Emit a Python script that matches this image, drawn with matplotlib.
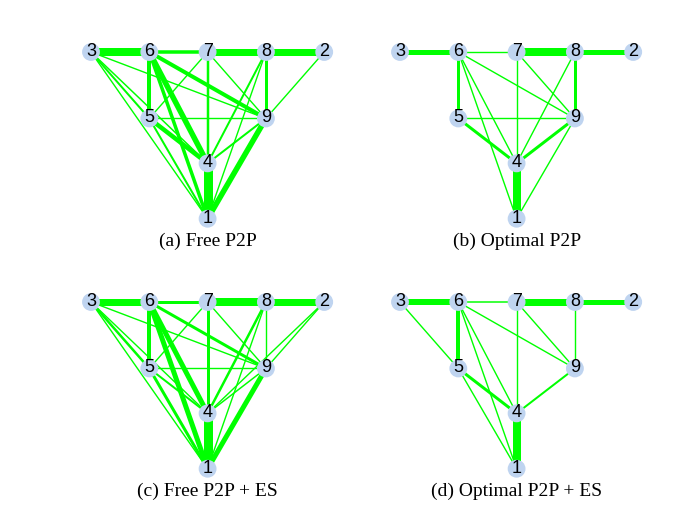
import matplotlib.pyplot as plt

W, H = 700, 525
PPU = 58.3  # pixels per layout unit

# node layout (node id -> position)
node_ids = [1, 2, 3, 4, 5, 6, 7, 8, 9]
node_x = [2, 4, 0, 2, 1, 1, 2, 3, 3]
node_y = [-2.86, 0, 0, -1.91, -1.14, 0, 0, 0, -1.14]

# edges: (from, to, weight as line width in px)
edges_free = [
    (3, 6, 8), (6, 7, 3.5), (7, 8, 7), (8, 2, 7),
    (3, 9, 1), (3, 5, 2), (3, 4, 1.5), (3, 1, 1),
    (6, 5, 4), (6, 9, 4), (6, 4, 5.5), (6, 1, 3.5),
    (7, 5, 1), (7, 4, 2.5), (7, 9, 1),
    (8, 9, 3), (8, 4, 2), (8, 1, 1),
    (2, 9, 1), (5, 9, 1), (5, 4, 4.5), (5, 1, 2),
    (9, 4, 2), (9, 1, 5.5), (4, 1, 9),
]
edges_opt = [
    (3, 6, 5), (6, 7, 1), (7, 8, 8), (8, 2, 5),
    (6, 5, 3), (6, 9, 1), (6, 4, 1), (6, 1, 1),
    (7, 4, 1), (7, 9, 1), (8, 9, 3), (8, 4, 1),
    (5, 9, 1), (5, 4, 3), (9, 4, 3), (9, 1, 1), (4, 1, 8),
]
edges_free_es = [
    (3, 6, 7), (6, 7, 3), (7, 8, 8), (8, 2, 7),
    (3, 9, 1), (3, 5, 2.5), (3, 4, 1), (3, 1, 1),
    (6, 5, 4), (6, 9, 3), (6, 4, 5), (6, 1, 5),
    (7, 5, 1), (7, 4, 3), (7, 9, 1),
    (8, 9, 1), (8, 4, 2.5), (8, 1, 1),
    (2, 9, 1), (2, 4, 1), (5, 9, 1), (5, 4, 2), (5, 1, 3),
    (9, 4, 1.5), (9, 1, 5), (4, 1, 9),
]
edges_opt_es = [
    (3, 6, 6), (6, 7, 1.5), (7, 8, 7), (8, 2, 5),
    (3, 5, 1), (6, 5, 4), (6, 9, 1), (6, 4, 1), (6, 1, 1),
    (7, 4, 1), (7, 9, 1), (8, 9, 1),
    (5, 4, 3), (5, 1, 1), (9, 4, 2), (4, 1, 8),
]

titles = ['(a) Free P2P', '(b) Optimal P2P', '(c) Free P2P + ES', '(d) Optimal P2P + ES']
panels = [edges_free, edges_opt, edges_free_es, edges_opt_es]
# pixel position of node 3 in each panel
origins = [(91, 52), (400, 52), (91, 302), (400, 302)]

pos = {n: (x, y) for n, x, y in zip(node_ids, node_x, node_y)}

fig = plt.figure(figsize=(7, 5.25), dpi=100)

mx, my = 30, 25
for edges, title, (ox, oy) in zip(panels, titles, origins):
    wpx = 4 * PPU + 2 * mx
    hpx = 2.86 * PPU + 2 * my
    ax = fig.add_axes([(ox - mx) / W, 1 - (oy - my + hpx) / H, wpx / W, hpx / H])
    ax.set_xlim(-mx / PPU, 4 + mx / PPU)
    ax.set_ylim(-2.86 - my / PPU, my / PPU)
    ax.axis('off')

    for u, v, w in edges:
        ax.plot([pos[u][0], pos[v][0]], [pos[u][1], pos[v][1]],
                color='#00ff00', lw=max(w, 1.4) * 0.72, solid_capstyle='butt', zorder=1)

    ax.scatter(node_x, node_y, s=165, color='#bfd4f0', edgecolors='none', zorder=2)
    for n, x, y in zip(node_ids, node_x, node_y):
        ax.text(x, y + 0.01, str(n), ha='center', va='center', fontsize=13,
                family='Liberation Sans', color='black', zorder=3)

    fig.text((ox + 2 * PPU) / W, 1 - (oy + 189) / H, title, ha='center', va='center',
             fontsize=14, family='Liberation Serif')

fig.savefig('out.png', dpi=100)
